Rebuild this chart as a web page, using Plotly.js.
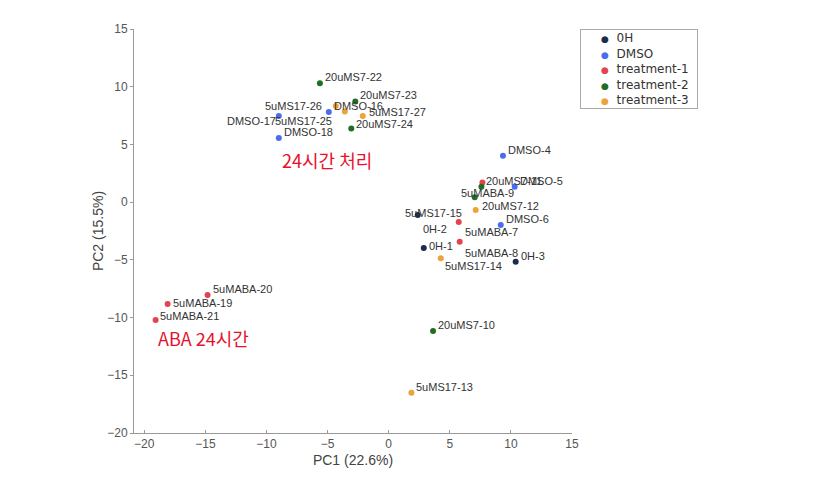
<!DOCTYPE html>
<html>
<head>
<meta charset="utf-8">
<script src="https://cdn.plot.ly/plotly-3.0.1.min.js"></script>
<style>
  html, body { margin: 0; padding: 0; background: #fff; }
  #chart { width: 833px; height: 482px; }
</style>
</head>
<body>
<div id="chart"></div>
<script>
(function () {
  'use strict';

  // ─── Data ────────────────────────────────────────────────────────────────────
  var groups      = ['0H', 'DMSO', 'treatment-1', 'treatment-2', 'treatment-3'];
  var groupColors = ['#1c2b4c', '#4a6cf2', '#e2434f', '#1f6e22', '#eda23a'];

  var sampleNames = [
    '0H-1', '0H-2', '0H-3',
    'DMSO-4', 'DMSO-5', 'DMSO-6', 'DMSO-16', 'DMSO-17', 'DMSO-18',
    '5uMABA-7', '5uMABA-8', '5uMABA-9', '5uMABA-19', '5uMABA-20', '5uMABA-21',
    '20uMS7-10', '20uMS7-11', '20uMS7-12', '20uMS7-22', '20uMS7-23', '20uMS7-24',
    '5uMS17-13', '5uMS17-14', '5uMS17-15', '5uMS17-25', '5uMS17-26', '5uMS17-27'
  ];
  var sampleGroup = [
    0, 0, 0,
    1, 1, 1, 1, 1, 1,
    2, 2, 2, 2, 2, 2,
    3, 3, 3, 3, 3, 3,
    4, 4, 4, 4, 4, 4
  ];
  var pc1 = [
    2.87, 2.38, 10.39,
    9.35, 10.31, 9.17, -4.90, -8.99, -8.99,
    5.73, 5.81, 7.67, -18.09, -14.82, -19.07,
    3.63, 7.59, 7.04, -5.63, -2.73, -3.06,
    1.86, 4.26, 7.12, -3.59, -4.33, -2.12
  ];
  var pc2 = [
    -3.98, -1.12, -5.16,
    4.02, 1.33, -1.98, 7.81, 7.46, 5.55,
    -1.72, -3.43, 1.70, -8.83, -8.05, -10.21,
    -11.17, 1.33, 0.42, 10.30, 8.72, 6.38,
    -16.51, -4.87, -0.68, 7.85, 8.33, 7.46
  ];

  var notes = [
    { text: '24시간 처리', x: -5.06, y: 3.65 },
    { text: 'ABA 24시간',  x: -15.12, y: -11.8 }
  ];

  // ─── Label placement (pixels: dx to label edge, dy up to label centre) ───────
  var DEFAULT_PLACE = { side: 'left', dx: 5, dy: 6 };
  var labelPlace = {
    '0H-1':      { side: 'left',  dx: 5,   dy: 2 },
    '0H-2':      { side: 'left',  dx: 5,   dy: -14 },
    '5uMABA-7':  { side: 'left',  dx: 6,   dy: -10 },
    '5uMABA-8':  { side: 'left',  dx: 5,   dy: -11 },
    '5uMABA-9':  { side: 'left',  dx: -21, dy: -10.5 },
    '5uMABA-19': { side: 'left',  dx: 5,   dy: 1 },
    '5uMABA-21': { side: 'left',  dx: 4,   dy: 4 },
    '20uMS7-12': { side: 'left',  dx: 7,   dy: -9 },
    '20uMS7-24': { side: 'left',  dx: 5,   dy: 4.5 },
    '5uMS17-14': { side: 'left',  dx: 4,   dy: -8 },
    '5uMS17-27': { side: 'left',  dx: 6,   dy: 4 },
    '5uMS17-15': { side: 'right', dx: -14, dy: -3 },
    '5uMS17-25': { side: 'right', dx: -13, dy: -9.5 },
    '5uMS17-26': { side: 'right', dx: -14, dy: 0 },
    'DMSO-17':   { side: 'right', dx: -3,  dy: -5 }
  };

  // ─── Traces ──────────────────────────────────────────────────────────────────
  var traces = groups.map(function (g, gi) {
    var xs = [], ys = [], names = [];
    sampleGroup.forEach(function (sg, i) {
      if (sg === gi) { xs.push(pc1[i]); ys.push(pc2[i]); names.push(sampleNames[i]); }
    });
    return {
      type: 'scatter', mode: 'markers', name: g,
      x: xs, y: ys, text: names, hoverinfo: 'text',
      marker: { color: groupColors[gi], size: 6, line: { width: 0 } }
    };
  });

  // ─── Annotations ─────────────────────────────────────────────────────────────
  var annotations = sampleNames.map(function (name, i) {
    var p = labelPlace[name] || DEFAULT_PLACE;
    return {
      x: pc1[i], y: pc2[i], xref: 'x', yref: 'y',
      text: name, showarrow: false,
      xanchor: p.side, yanchor: 'middle',
      xshift: p.side === 'left' ? p.dx - 2 : p.dx + 2,
      yshift: p.dy,
      font: { family: 'Arial, "Liberation Sans", sans-serif', size: 11, color: '#333' }
    };
  });

  notes.forEach(function (n) {
    annotations.push({
      x: n.x, y: n.y, xref: 'x', yref: 'y', text: n.text, showarrow: false,
      xanchor: 'center', yanchor: 'middle',
      font: { family: '"Noto Sans CJK KR", sans-serif', size: 18, color: '#e8112d' }
    });
  });

  // legend drawn as one boxed text block so rows sit 15px apart
  var legendLines = groups.map(function (g, gi) {
    return '&nbsp;&nbsp;&nbsp;&nbsp;&nbsp;<span style="color:' + groupColors[gi] + ';font-size:9px">●</span>' +
           '&nbsp;&nbsp;' + g + '&nbsp;&nbsp;';
  });
  annotations.push({
    xref: 'paper', yref: 'paper', x: 1.018, y: 1,
    xanchor: 'left', yanchor: 'top', align: 'left',
    text: legendLines.join('<br>'), showarrow: false,
    bordercolor: '#aaa', borderwidth: 1, borderpad: 1, bgcolor: '#fff',
    font: { family: '"DejaVu Sans", sans-serif', size: 12, color: '#333' }
  });

  // ─── Layout ──────────────────────────────────────────────────────────────────
  var axisFont = { family: 'Arial, "Liberation Sans", sans-serif', size: 12, color: '#555' };
  var layout = {
    width: 833, height: 482,
    margin: { l: 134, r: 261, t: 29, b: 49, pad: 0 },
    paper_bgcolor: '#fff', plot_bgcolor: '#fff',
    showlegend: false,
    xaxis: {
      range: [-20.84, 15], tickmode: 'linear', tick0: -20, dtick: 5,
      showgrid: false, zeroline: false, showline: true, linecolor: '#999', linewidth: 1,
      ticks: 'inside', ticklen: 3, tickcolor: '#999', tickfont: axisFont,
      title: { text: 'PC1 (22.6%)', standoff: 4,
               font: { family: 'Arial, "Liberation Sans", sans-serif', size: 14, color: '#444' } }
    },
    yaxis: {
      range: [-20, 15], tickmode: 'linear', tick0: -20, dtick: 5,
      showgrid: false, zeroline: false, showline: true, linecolor: '#999', linewidth: 1,
      ticks: 'outside', ticklen: 3, tickcolor: '#999', tickfont: axisFont,
      title: { text: 'PC2 (15.5%)', standoff: 0,
               font: { family: 'Arial, "Liberation Sans", sans-serif', size: 14, color: '#444' } }
    },
    annotations: annotations
  };

  Plotly.newPlot('chart', traces, layout, { displayModeBar: false, staticPlot: true });
})();
</script>
</body>
</html>
